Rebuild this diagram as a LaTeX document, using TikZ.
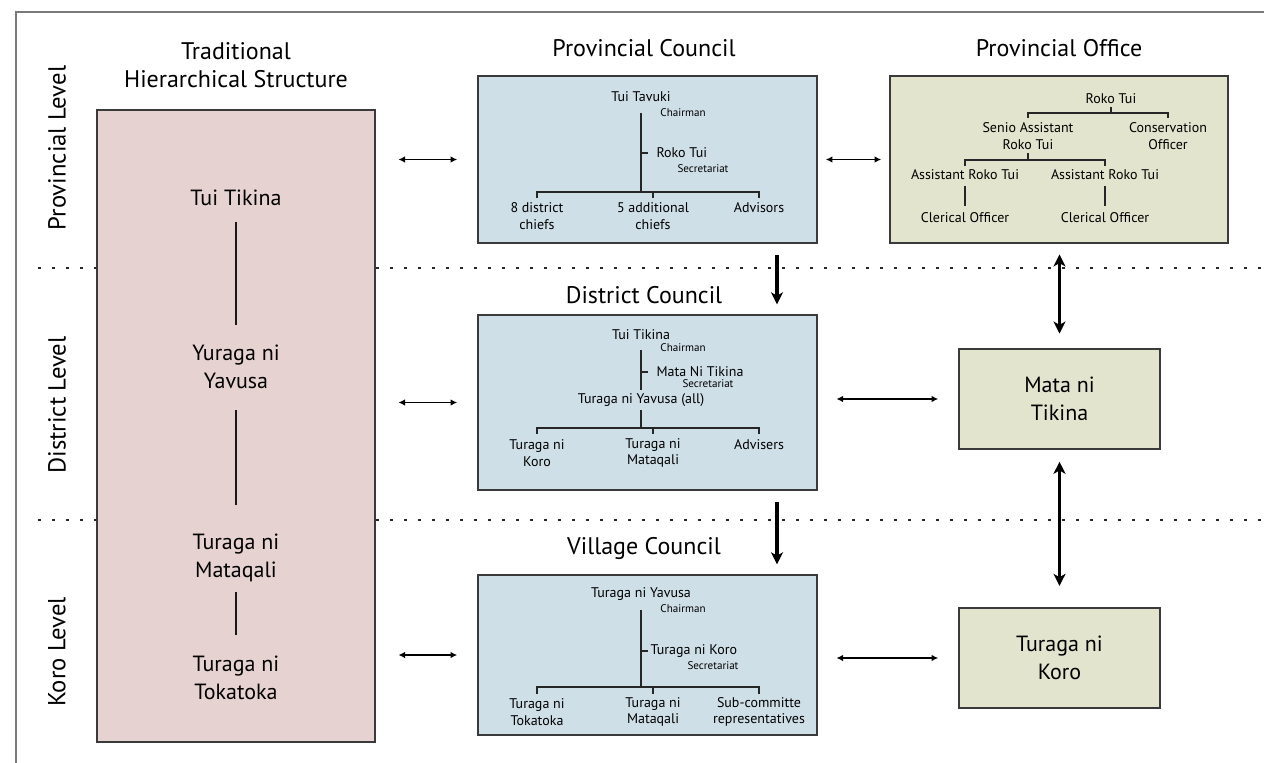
\documentclass[tikz,border=0pt]{standalone}
\usepackage{fontspec}
\setmainfont{PT Sans}
\usetikzlibrary{arrows.meta}

\definecolor{tradpink}{HTML}{E6D2D0}
\definecolor{councilblue}{HTML}{CFDFE7}
\definecolor{officegreen}{HTML}{E3E4CE}
\definecolor{boxline}{HTML}{3A3A3A}
\definecolor{frameline}{HTML}{7A7A7A}

\tikzset{every picture/.style={line width=0.75pt},
  levelbox/.style={draw=boxline,line width=1.2pt,inner sep=0pt},
  coltitle/.style={font=\fontsize{18}{21.5}\selectfont,align=center,inner sep=0.75pt},
  lvltext/.style={font=\fontsize{18.5}{21}\selectfont,rotate=90,inner sep=0.75pt},
  bigtext/.style={font=\fontsize{16.5}{21}\selectfont,align=center,inner sep=0.75pt},
  midtext/.style={font=\fontsize{10.5}{12.5}\selectfont,align=center,inner sep=0.75pt},
  smalltext/.style={font=\fontsize{8.3}{10}\selectfont,inner sep=0.75pt},
  treeline/.style={line width=1.1pt,draw=black!85},
  trunkline/.style={line width=2.2pt,draw=black!90},
  thinarrow/.style={line width=1.1pt,{Latex[length=5pt,width=5pt]}-{Latex[length=5pt,width=5pt]}},
  thickarrow/.style={line width=2.4pt,-{Stealth[length=9pt,width=9pt,inset=2.5pt]}},
  thickboth/.style={line width=2.4pt,{Stealth[length=9pt,width=9pt,inset=2.5pt]}-{Stealth[length=9pt,width=9pt,inset=2.5pt]}},
  levelsep/.style={line width=2.2pt,dash pattern=on 2.2pt off 8.3pt,draw=black!85}
}

\begin{document}
\begin{tikzpicture}[x=0.75pt,y=0.75pt,yscale=-1,xscale=1]
        \useasboundingbox (0,0) rectangle (1264,763);
        %Frame
        \draw [frameline,line width=1pt] (16,763) -- (16,12) -- (1264,12) ;

        %Level separators
        \draw [levelsep] (38,268) -- (97,268) ;
        \draw [levelsep] (376,268) -- (1264,268) ;
        \draw [levelsep] (38,520) -- (97,520) ;
        \draw [levelsep] (376,520) -- (1264,520) ;

        % Level labels
        \node (lvlProv) at (57,148) [lvltext] {Provincial Level};
        \node (lvlDist) at (57,405) [lvltext] {District Level};
        \node (lvlKoro) at (57,652) [lvltext] {Koro Level};

        % Column titles
        \node (ttlTrad) at (236,65) [coltitle] {Traditional\\Hierarchical Structure};
        \node (ttlPC) at (644,48) [coltitle] {Provincial Council};
        \node (ttlPO) at (1059,48) [coltitle] {Provincial Office};
        \node (ttlDC) at (644,295) [coltitle] {District Council};
        \node (ttlVC) at (644,548) [coltitle] {Village Council};

        % Boxes
        \node (trad) at (236,426) [levelbox,fill=tradpink,minimum width=208.5pt,minimum height=474pt] {};
        \node (pc) at (647.5,159.5) [levelbox,fill=councilblue,minimum width=254.25pt,minimum height=125.25pt] {};
        \node (dc) at (647.5,402.5) [levelbox,fill=councilblue,minimum width=254.25pt,minimum height=131.25pt] {};
        \node (vc) at (647.5,655) [levelbox,fill=councilblue,minimum width=254.25pt,minimum height=120pt] {};
        \node (po) at (1059,159.5) [levelbox,fill=officegreen,minimum width=253.5pt,minimum height=125.25pt] {};
        \node (mt) at (1059.5,399) [levelbox,fill=officegreen,minimum width=150.75pt,minimum height=75pt] {};
        \node (tk) at (1059.5,658) [levelbox,fill=officegreen,minimum width=150.75pt,minimum height=75pt] {};

        % Traditional structure
        \node (trTT) at (236,198) [bigtext] {Tui Tikina};
        \node (trYY) at (236,367) [bigtext] {Yuraga ni\\Yavusa};
        \node (trTM) at (236,558) [bigtext] {Turaga ni\\Mataqali};
        \node (trTTk) at (236,678) [bigtext] {Turaga ni\\Tokatoka};
        \draw [trunkline] (236,222) -- (236,325) ;
        \draw [trunkline] (236,410) -- (236,505) ;
        \draw [trunkline] (236,592) -- (236,635) ;

        % Right boxes text
        \node (mtText) at (mt) [bigtext] {Mata ni\\Tikina};
        \node (tkText) at (tk) [bigtext] {Turaga ni\\Koro};

        % Provincial Council tree
        \node (pcHead) at (641,97) [midtext] {Tui Tavuki};
        \node (pcChair) at (683,113) [smalltext] {Chairman};
        \node (pcSec) at (655,153) [midtext,anchor=west] {Roko Tui};
        \node (pcSecL) at (703,169) [smalltext] {Secretariat};
        \draw [treeline] (641,113) -- (641,192) ;
        \draw [treeline] (641,153) -- (648,153) ;
        \draw [treeline] (537,198) -- (537,192) -- (759,192) -- (759,198) ;
        \draw [treeline] (653,192) -- (653,198) ;
        \node (pcA) at (537,216) [midtext] {8 district\\chiefs};
        \node (pcB) at (653,216) [midtext] {5 additional\\chiefs};
        \node (pcC) at (759,208) [midtext] {Advisors};

        % District Council tree
        \node (dcHead) at (641,335) [midtext] {Tui Tikina};
        \node (dcChair) at (683,348) [smalltext] {Chairman};
        \node (dcSec) at (655,372) [midtext,anchor=west] {Mata Ni Tikina};
        \node (dcSecL) at (708,384) [smalltext] {Secretariat};
        \node (dcMid) at (641,400) [midtext] {Turaga ni Yavusa (all)};
        \draw [treeline] (641,350) -- (641,390) ;
        \draw [treeline] (641,372) -- (648,372) ;
        \draw [treeline] (641,410) -- (641,428) ;
        \draw [treeline] (537,434) -- (537,428) -- (759,428) -- (759,434) ;
        \draw [treeline] (653,428) -- (653,434) ;
        \node (dcA) at (537,453) [midtext] {Turaga ni\\Koro};
        \node (dcB) at (653,453) [midtext] {Turaga ni\\Mataqali};
        \node (dcC) at (759,445) [midtext] {Advisers};

        % Village Council tree
        \node (vcHead) at (641,594) [midtext] {Turaga ni Yavusa};
        \node (vcChair) at (683,609) [smalltext] {Chairman};
        \node (vcSec) at (649,651) [midtext,anchor=west] {Turaga ni Koro};
        \node (vcSecL) at (713,666) [smalltext] {Secretariat};
        \draw [treeline] (641,610) -- (641,687) ;
        \draw [treeline] (641,651) -- (648,651) ;
        \draw [treeline] (537,694) -- (537,687) -- (759,687) -- (759,694) ;
        \draw [treeline] (653,687) -- (653,694) ;
        \node (vcA) at (537,712) [midtext] {Turaga ni\\Tokatoka};
        \node (vcB) at (653,712) [midtext] {Turaga ni\\Mataqali};
        \node (vcC) at (759,712) [midtext] {Sub-committe\\representatives};

        % Provincial Office tree
        \node (poHead) at (1111,99) [midtext] {Roko Tui};
        \node (poSA) at (1028,136) [midtext] {Senio Assistant\\Roko Tui};
        \node (poCO) at (1168,136) [midtext] {Conservation\\Officer};
        \node (poAR1) at (965,175) [midtext] {Assistant Roko Tui};
        \node (poAR2) at (1105,175) [midtext] {Assistant Roko Tui};
        \node (poCl1) at (965,218) [midtext] {Clerical Officer};
        \node (poCl2) at (1105,218) [midtext] {Clerical Officer};
        \draw [treeline] (1111,107) -- (1111,113) ;
        \draw [treeline] (1028,118) -- (1028,113) -- (1168,113) -- (1168,118) ;
        \draw [treeline] (1028,153) -- (1028,160) ;
        \draw [treeline] (965,166) -- (965,160) -- (1105,160) -- (1105,166) ;
        \draw [treeline] (965,186) -- (965,206) ;
        \draw [treeline] (1105,186) -- (1105,206) ;

        % Horizontal links
        \draw [thinarrow,shorten <=17pt,shorten >=15pt] (trad.east |- pc.west) -- (pc.west) ;
        \draw [thinarrow,shorten <=17pt,shorten >=15pt] (trad.east |- dc.west) -- (dc.west) ;
        \draw [thinarrow,shorten <=17pt,shorten >=15pt] (trad.east |- vc.west) -- (vc.west) ;
        \draw [thinarrow,shorten <=6pt,shorten >=6pt] (pc.east) -- (po.west |- pc.east) ;
        \draw [thinarrow,shorten <=14pt,shorten >=15pt] (dc.east |- mt.west) -- (mt.west) ;
        \draw [thinarrow,shorten <=14pt,shorten >=15pt] (vc.east |- tk.west) -- (tk.west) ;

        % Vertical links
        \draw [thickarrow,shorten <=9pt,shorten >=8pt] (777,243) -- (777,315) ;
        \draw [thickarrow,shorten <=9pt,shorten >=8pt] (777,490) -- (777,575) ;
        \draw [thickboth,shorten <=8pt,shorten >=11pt] (po.south -| mt.north) -- (mt.north) ;
        \draw [thickboth,shorten <=9pt,shorten >=16pt] (mt.south) -- (tk.north) ;
    \end{tikzpicture}
\end{document}
